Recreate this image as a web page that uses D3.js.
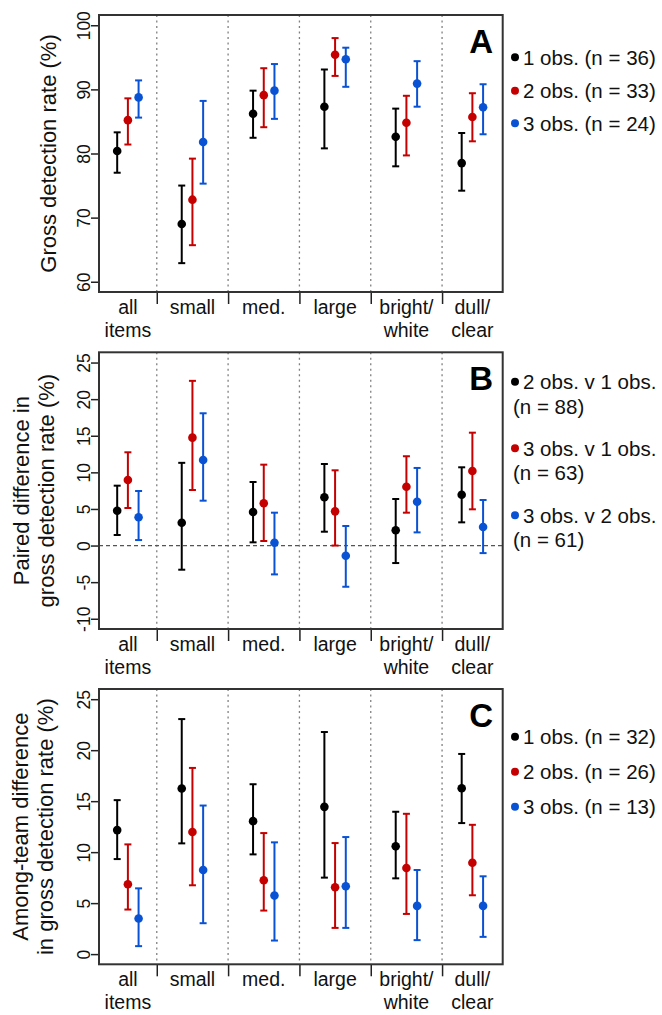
<!DOCTYPE html>
<html>
<head>
<meta charset="utf-8">
<script src="https://cdn.jsdelivr.net/npm/d3@7"></script>
<style>
  html, body { margin: 0; padding: 0; background: #fff; }
  svg { display: block; font-family: "Liberation Sans", Arial, Helvetica, sans-serif; }
</style>
</head>
<body>
<svg id="chart" width="662" height="1015"></svg>
<script>
// ---------------- DATA ----------------
const categories = [["all", "items"], ["small"], ["med."], ["large"], ["bright/", "white"], ["dull/", "clear"]];

// Panel A: gross detection rate (%)
const A_legend = [["1 obs. (n = 36)"], ["2 obs. (n = 33)"], ["3 obs. (n = 24)"]];
const A_mean = [
  [80.4, 69.0, 86.2, 87.3, 82.6, 78.5],
  [85.2, 72.8, 89.1, 95.4, 84.8, 85.7],
  [88.75, 81.8, 89.8, 94.7, 90.9, 87.2]
];
const A_lo = [
  [77.0, 62.9, 82.45, 80.8, 78.0, 74.2],
  [81.4, 65.7, 84.1, 92.1, 79.7, 81.9],
  [85.6, 75.3, 85.4, 90.4, 87.3, 83.0]
];
const A_hi = [
  [83.3, 75.0, 89.8, 93.1, 87.0, 83.2],
  [88.6, 79.2, 93.3, 98.0, 89.0, 89.4],
  [91.4, 88.2, 93.95, 96.5, 94.4, 90.8]
];
const A_ticks = [60, 70, 80, 90, 100];

// Panel B: paired difference in gross detection rate (%)
const B_legend = [["2 obs. v 1 obs.", "(n = 88)"], ["3 obs. v 1 obs.", "(n = 63)"], ["3 obs. v 2 obs.", "(n = 61)"]];
const B_mean = [
  [4.76, 3.12, 4.58, 6.59, 2.08, 6.95],
  [8.96, 14.74, 5.77, 4.67, 8.04, 10.19],
  [3.86, 11.69, 0.38, -1.39, 5.99, 2.53]
];
const B_lo = [
  [1.44, -3.3, 0.44, 1.89, -2.39, 3.17],
  [5.13, 7.59, 0.62, 0.0, 4.49, 4.95],
  [0.75, 6.13, -3.94, -5.63, 1.8, -1.03]
];
const B_hi = [
  [8.18, 11.3, 8.68, 11.14, 6.36, 10.69],
  [12.74, 22.5, 11.05, 10.28, 12.2, 15.42],
  [7.45, 18.07, 4.49, 2.67, 10.6, 6.22]
];
const B_ticks = [-10, -5, 0, 5, 10, 15, 20, 25];

// Panel C: among-team difference in gross detection rate (%)
const C_legend = [["1 obs. (n = 32)"], ["2 obs. (n = 26)"], ["3 obs. (n = 13)"]];
const C_mean = [
  [12.16, 16.24, 13.04, 14.44, 10.57, 16.27],
  [6.85, 11.97, 7.24, 6.55, 8.44, 8.96],
  [3.49, 8.25, 5.74, 6.65, 4.73, 4.73]
];
const C_lo = [
  [9.32, 10.86, 9.78, 7.5, 7.43, 12.85],
  [4.37, 6.75, 4.27, 2.57, 3.94, 5.77],
  [0.78, 3.03, 1.33, 2.57, 1.37, 1.69]
];
const C_hi = [
  [15.1, 23.05, 16.66, 21.78, 13.96, 19.63],
  [10.76, 18.26, 11.87, 10.89, 13.76, 12.68],
  [6.45, 14.57, 10.96, 11.48, 8.25, 7.63]
];
const C_ticks = [0, 5, 10, 15, 20, 25];

// ---------------- STYLE / LAYOUT ----------------
const colors = ["#000000", "#c40000", "#0a52d4"];
const svg = d3.select("#chart");
const boxLeft = 99, boxRight = 502.7;
const x = d3.scaleLinear().domain([0.69, 6.35]).range([boxLeft, boxRight]);
const dividers = [1.5, 2.5, 3.5, 4.5, 5.5];
const bandEdges = [x.domain()[0], ...dividers, x.domain()[1]];
const groupCenter = i => (bandEdges[i] + bandEdges[i + 1]) / 2;
const dodge = 0.15;

const panels = [
  { letter: "A", top: 15, bottom: 292, domain: [58.4, 101.6], ticks: A_ticks,
    ylab: ["Gross detection rate (%)"], ylabX: [56],
    mean: A_mean, lo: A_lo, hi: A_hi, legend: A_legend, legY: [57.3, 90.7, 123.3], zero: false },
  { letter: "B", top: 352.3, bottom: 629, domain: [-11.4, 26.4], ticks: B_ticks,
    ylab: ["Paired difference in", "gross detection rate (%)"], ylabX: [29, 54],
    mean: B_mean, lo: B_lo, hi: B_hi, legend: B_legend, legY: [381.7, 448.3, 515.3], zero: true },
  { letter: "C", top: 689, bottom: 964.3, domain: [-1, 26], ticks: C_ticks,
    ylab: ["Among-team difference", "in gross detection rate (%)"], ylabX: [28, 53],
    mean: C_mean, lo: C_lo, hi: C_hi, legend: C_legend, legY: [736.7, 771.7, 806.7], zero: false }
];

panels.forEach(p => {
  const g = svg.append("g");
  const y = d3.scaleLinear().domain(p.domain).range([p.bottom, p.top]);

  // dotted dividers
  g.selectAll("line.div").data(dividers).join("line")
    .attr("x1", d => x(d)).attr("x2", d => x(d))
    .attr("y1", p.top).attr("y2", p.bottom)
    .attr("stroke", "#808080").attr("stroke-width", 1.3)
    .attr("stroke-dasharray", "2,3.5");

  // zero line
  if (p.zero) {
    g.append("line")
      .attr("x1", boxLeft).attr("x2", boxRight)
      .attr("y1", y(0)).attr("y2", y(0))
      .attr("stroke", "#555").attr("stroke-width", 1.2)
      .attr("stroke-dasharray", "4,3");
  }

  // y axis
  const yAxis = d3.axisLeft(y).tickValues(p.ticks).tickSize(8).tickSizeOuter(0)
    .tickFormat(d => String(d));
  const ya = g.append("g").attr("transform", `translate(${boxLeft},0)`).call(yAxis);
  ya.select(".domain").attr("stroke", "#222").attr("stroke-width", 1.5)
    .attr("d", `M0,${y(p.ticks[0])}V${y(p.ticks[p.ticks.length - 1])}`);
  ya.selectAll(".tick line").attr("stroke", "#222").attr("stroke-width", 1.5);
  ya.selectAll(".tick text")
    .attr("x", null).attr("dy", null)
    .attr("transform", "translate(-9,0) rotate(-90)")
    .attr("text-anchor", "middle")
    .attr("font-size", 17.5)
    .attr("font-family", "'Liberation Sans', Arial, sans-serif")
    .attr("fill", "#111");

  // x axis (ticks at dividers, labels at group centers)
  const xAxis = d3.axisBottom(x).tickValues(dividers).tickSize(12).tickSizeOuter(0).tickFormat("");
  const xa = g.append("g").attr("transform", `translate(0,${p.bottom})`).call(xAxis);
  xa.select(".domain").remove();
  xa.selectAll(".tick line").attr("stroke", "#222").attr("stroke-width", 1.5);

  categories.forEach((lines, i) => {
    lines.forEach((t, k) => {
      g.append("text")
        .attr("x", x(groupCenter(i)))
        .attr("y", p.bottom + 21.5 + k * 23.5)
        .attr("text-anchor", "middle")
        .attr("font-size", 19.5)
        .attr("fill", "#111")
        .text(t);
    });
  });

  // y label
  p.ylab.forEach((t, k) => {
    g.append("text")
      .attr("transform", `translate(${p.ylabX[k]},${(p.top + p.bottom) / 2}) rotate(-90)`)
      .attr("text-anchor", "middle")
      .attr("font-size", 22)
      .attr("fill", "#111")
      .text(t);
  });

  // box
  g.append("rect")
    .attr("x", boxLeft).attr("y", p.top)
    .attr("width", boxRight - boxLeft).attr("height", p.bottom - p.top)
    .attr("fill", "none").attr("stroke", "#333").attr("stroke-width", 2);

  // panel letter
  g.append("text")
    .attr("x", 493).attr("y", p.top + 37.5)
    .attr("text-anchor", "end")
    .attr("font-size", 33).attr("font-weight", "bold")
    .attr("fill", "#000")
    .text(p.letter);

  // error bars + points
  p.mean.forEach((series, s) => {
    const sg = g.append("g");
    const px = i => x(groupCenter(i) + (s - 1) * dodge);
    const rows = series.map((m, i) => ({ i, m, lo: p.lo[s][i], hi: p.hi[s][i] }));
    sg.selectAll("line.bar").data(rows).join("line")
      .attr("x1", d => px(d.i)).attr("x2", d => px(d.i))
      .attr("y1", d => y(d.lo)).attr("y2", d => y(d.hi))
      .attr("stroke", colors[s]).attr("stroke-width", 2);
    ["lo", "hi"].forEach(key => {
      sg.selectAll("line.cap" + key).data(rows).join("line")
        .attr("x1", d => px(d.i) - 3.5).attr("x2", d => px(d.i) + 3.5)
        .attr("y1", d => y(d[key])).attr("y2", d => y(d[key]))
        .attr("stroke", colors[s]).attr("stroke-width", 2);
    });
    sg.selectAll("circle").data(rows).join("circle")
      .attr("cx", d => px(d.i)).attr("cy", d => y(d.m))
      .attr("r", 4.3).attr("fill", colors[s]);
  });

  // legend
  p.legend.forEach((lines, s) => {
    const cy = p.legY[s];
    svg.append("circle").attr("cx", 515).attr("cy", cy).attr("r", 4).attr("fill", colors[s]);
    lines.forEach((t, k) => {
      svg.append("text")
        .attr("x", k === 0 ? 523 : 513)
        .attr("y", cy + 7.3 + k * 24.5)
        .attr("font-size", 20.5)
        .attr("fill", "#111")
        .text(t);
    });
  });
});
</script>
</body>
</html>
